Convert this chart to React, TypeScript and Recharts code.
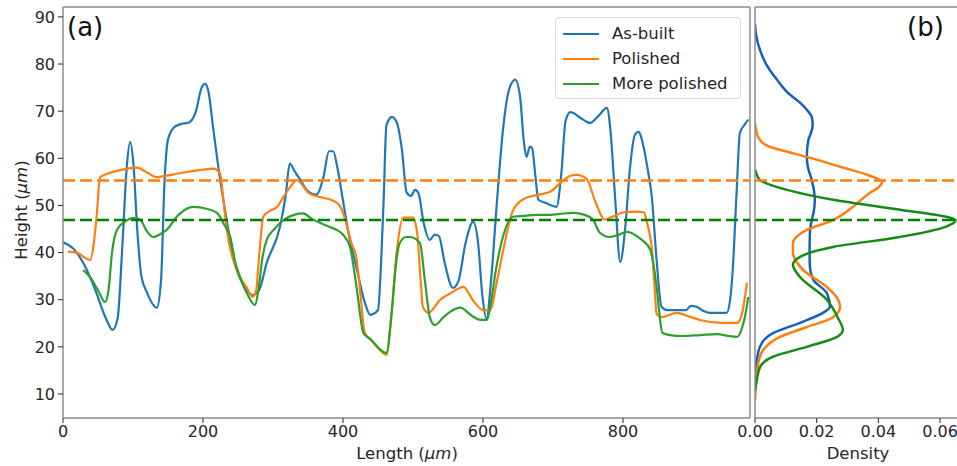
import { Line, LineChart, ReferenceLine, XAxis, YAxis } from "recharts";

// profile (a): x positions in µm and heights in µm
const asBuiltX = [0, 15, 30, 45, 60, 71, 78, 85, 91, 96, 101, 106, 112, 120, 134, 140, 145, 150, 158, 167, 180, 190, 198, 203, 208, 214, 222, 234, 245, 258, 271, 280, 291, 310, 318, 324, 330, 339, 350, 362, 372, 380, 386, 392, 400, 408, 419, 430, 439, 450, 455, 458, 462, 470, 477, 484, 491, 497, 503, 508, 515, 524, 531, 537, 545, 557, 565, 575, 586, 593, 599, 605, 612, 620, 629, 637, 646, 653, 658, 662, 667, 670, 675, 679, 690, 705, 712, 718, 725, 740, 753, 765, 777, 782, 789, 796, 803, 810, 817, 822, 830, 836, 841, 848, 855, 863, 875, 890, 897, 905, 915, 924, 948, 953, 957, 962, 967, 973, 979];
const asBuiltY = [42.2, 40.8, 37.5, 32.5, 26.5, 23.6, 26, 42, 58, 63.5, 58, 45, 35, 31.5, 28.3, 34, 55, 64, 66.5, 67.2, 67.6, 70, 75, 75.8, 74, 67, 58, 46.7, 38, 33, 31, 32, 37.8, 45.5, 52, 58.9, 57.5, 55.4, 53, 52.3, 56, 61.5, 61.5, 58, 51, 44, 37, 30, 26.8, 27.8, 40, 51, 67, 68.8, 67.5, 62, 52.7, 52, 53.3, 52.5, 46.5, 42.7, 43.8, 43.5, 38, 32.5, 34, 42, 46.5, 42, 31, 26, 35, 51, 66.7, 74.5, 76.7, 73, 64, 60.3, 62.5, 62.2, 56, 51.2, 50.5, 49.7, 57, 68, 69.8, 68.5, 67.5, 69, 70.7, 66, 51, 38, 45, 58, 65, 65.6, 62, 57, 52, 38.4, 28.5, 27.8, 27.8, 27.8, 28.7, 28.5, 27.6, 27.2, 27.2, 30, 37, 52, 65.4, 67, 68.2];

const polishedX = [7, 20, 30, 39, 44, 48, 53, 67, 85, 106, 120, 134, 155, 177, 200, 215, 224, 230, 234, 243, 252, 262, 271, 276, 279, 283, 286, 295, 306, 315, 325, 334, 339, 352, 367, 386, 395, 400, 405, 412, 419, 425, 431, 440, 450, 462, 468, 477, 486, 500, 506, 511, 514, 522, 539, 555, 572, 585, 600, 610, 620, 629, 643, 660, 677, 696, 715, 725, 734, 742, 749, 760, 774, 785, 800, 820, 830, 834, 838, 841, 845, 848, 855, 877, 895, 910, 940, 963, 970, 977];
const polishedY = [40.2, 40, 39, 38.4, 42, 47.6, 56, 56.9, 57.6, 58, 57, 56, 56.5, 57.1, 57.6, 57.8, 56.9, 50, 44.8, 38.5, 35, 32.7, 30.6, 32, 37, 44, 47.6, 48.8, 49.7, 51.8, 54, 55.4, 54.8, 52.5, 51.8, 51, 50, 48.4, 46, 42, 39, 31, 23, 21.5, 19.8, 18.3, 25, 40.6, 47.4, 47.4, 44, 34, 28.5, 27.2, 30, 31.5, 32.7, 30, 27.8, 27.8, 34, 40.6, 49, 51.5, 52.2, 52.9, 55.4, 56.3, 56.5, 56.2, 55.4, 51, 47, 47.6, 48.5, 48.7, 48.5, 46.5, 44, 41.2, 33, 27, 26.3, 27.2, 26.4, 25.7, 25.1, 25.1, 27, 33.6];

const morePolishedX = [29, 40, 50, 60, 65, 70, 77, 88, 100, 110, 120, 129, 140, 148, 165, 186, 205, 220, 230, 239, 246, 253, 264, 274, 280, 285, 291, 302, 315, 330, 343, 355, 367, 380, 391, 400, 410, 420, 429, 440, 455, 462, 470, 476, 481, 490, 496, 510, 517, 524, 531, 545, 567, 585, 596, 605, 612, 618, 624, 643, 660, 677, 691, 710, 729, 745, 757, 767, 781, 790, 806, 824, 839, 844, 848, 852, 856, 867, 885, 910, 935, 950, 963, 970, 975, 979];
const morePolishedY = [36.3, 34.5, 32, 29.5, 32, 40, 44.8, 46.5, 47.3, 47, 44.5, 43.3, 44, 44.8, 48, 49.7, 49.3, 48.4, 46, 43.3, 38, 34.8, 31, 28.9, 33, 39, 42.7, 45, 46.9, 48, 48.3, 47.2, 46.3, 45.5, 44.8, 43.8, 41.2, 32, 23, 21.5, 19.2, 18.7, 28, 38, 42, 43.3, 43.3, 42, 34, 26.3, 24.6, 26.5, 28.3, 26.5, 25.7, 25.7, 30, 36, 40.6, 47.6, 47.8, 48, 48, 48.2, 48.4, 48, 47, 44.2, 43.3, 43.6, 44.4, 43, 40.6, 37, 32.7, 27, 23, 22.5, 22.3, 22.5, 22.7, 22.3, 22.1, 24, 27, 30.6];

// density (b): heights and kernel density values
const asBuiltDensH = [88.5, 86, 83, 80, 76.7, 74, 71.8, 70, 68.8, 67, 65.5, 63.9, 60.3, 58, 55.4, 51.2, 48.5, 46.9, 44.2, 40, 37, 34.2, 31.4, 28.5, 27.2, 25.1, 22.9, 20, 17.2, 14.5];
const asBuiltDens = [0, 0.0004, 0.0016, 0.0036, 0.0071, 0.0105, 0.0146, 0.0172, 0.0184, 0.0187, 0.0182, 0.0173, 0.0168, 0.0172, 0.0184, 0.0194, 0.019, 0.0184, 0.0178, 0.0177, 0.0178, 0.0189, 0.0233, 0.0243, 0.022, 0.0146, 0.0058, 0.0016, 0.0006, 0];

const polishedDensH = [67.5, 65.5, 63.9, 62.5, 61.8, 60.3, 58.2, 56.5, 55, 53.8, 52.7, 49.7, 46.9, 44.8, 42, 39.9, 38, 36.3, 32.7, 30.5, 28.5, 26.3, 24.2, 22.1, 19.3, 17, 14.5, 11, 8.7];
const polishedDens = [0, 0.0005, 0.0016, 0.0045, 0.0081, 0.0168, 0.0276, 0.0363, 0.0412, 0.04, 0.0373, 0.0318, 0.0253, 0.0168, 0.0123, 0.0123, 0.0135, 0.0156, 0.0233, 0.0265, 0.0276, 0.0253, 0.0168, 0.0081, 0.0026, 0.0012, 0.0006, 0.0002, 0];

const morePolishedDensH = [57.6, 56.5, 55.4, 53.3, 51.2, 49.1, 47.6, 46.9, 45.5, 43.3, 41.2, 39.1, 37.4, 34.8, 30, 26, 23.6, 22.1, 20, 17.9, 15.7, 13, 10.8];
const morePolishedDens = [0, 0.0006, 0.0016, 0.0104, 0.0253, 0.047, 0.062, 0.065, 0.062, 0.047, 0.0253, 0.0146, 0.0123, 0.0146, 0.0233, 0.027, 0.0285, 0.0266, 0.0168, 0.0058, 0.0016, 0.0006, 0];

const polishedMean = 55.3;
const morePolishedMean = 46.9;

const seriesNames = ["As-built", "Polished", "More polished"];

const heightTicks = [10, 20, 30, 40, 50, 60, 70, 80, 90];
const lengthTicks = [0, 200, 400, 600, 800];
const densityTicks = [0, 0.02, 0.04, 0.06];

const Y_DOMAIN: [number, number] = [4.9, 92.1];
const X_DOMAIN: [number, number] = [0, 981.4];
const D_DOMAIN: [number, number] = [0, 0.0655];

const FONT = "DejaVu Sans, sans-serif";
const FRAME = "#8c8c8c";
const TEXT = "#262626";

const C_BLUE = "#1f77b4";
const C_ORANGE = "#ff7f0e";
const C_GREEN = "#2ca02c";
const SERIES_COLORS = [C_BLUE, C_ORANGE, C_GREEN];

const zip = (xs: number[], ys: number[], kx: string, ky: string) =>
  xs.map((x, i) => ({ [kx]: x, [ky]: ys[i] }));

const asBuiltData = zip(asBuiltX, asBuiltY, "x", "y");
const polishedData = zip(polishedX, polishedY, "x", "y");
const morePolishedData = zip(morePolishedX, morePolishedY, "x", "y");

const asBuiltDensData = zip(asBuiltDensH, asBuiltDens, "h", "d");
const polishedDensData = zip(polishedDensH, polishedDens, "h", "d");
const morePolishedDensData = zip(morePolishedDensH, morePolishedDens, "h", "d");

const tickStyle = { fontSize: 16, fill: TEXT, fontFamily: FONT };

function LegendBox() {
  return (
    <div
      style={{
        position: "absolute",
        left: 555,
        top: 17,
        width: 186,
        height: 82,
        boxSizing: "border-box",
        border: "1px solid #d9d9d9",
        borderRadius: 4,
        background: "rgba(255,255,255,0.85)",
        padding: "3px 0 0 7px",
        fontSize: 16.5,
        color: TEXT,
      }}
    >
      {seriesNames.map((name, i) => (
        <div key={name} style={{ display: "flex", alignItems: "center", height: 25 }}>
          <span
            style={{
              display: "inline-block",
              width: 36,
              height: 0,
              borderTop: `2.5px solid ${SERIES_COLORS[i]}`,
              marginRight: 13,
            }}
          />
          <span>{name}</span>
        </div>
      ))}
    </div>
  );
}

export default function App() {
  return (
    <div
      style={{
        position: "absolute",
        left: 0,
        top: 0,
        width: 957,
        height: 466,
        overflow: "hidden",
        background: "#fff",
        fontFamily: FONT,
      }}
    >
      <div style={{ position: "absolute", left: 0, top: 0 }}>
        <LineChart
          width={760}
          height={466}
          margin={{ top: 7, right: 10, bottom: 0, left: 8 }}
        >
          <XAxis
            dataKey="x"
            type="number"
            domain={X_DOMAIN}
            ticks={lengthTicks}
            allowDataOverflow
            height={48}
            tickSize={5}
            tickMargin={3}
            tick={tickStyle}
            tickLine={{ stroke: TEXT }}
            axisLine={{ stroke: FRAME, strokeWidth: 1.5 }}
          />
          <YAxis
            type="number"
            domain={Y_DOMAIN}
            ticks={heightTicks}
            allowDataOverflow
            width={55}
            tickSize={5}
            tickMargin={3}
            tick={tickStyle}
            tickLine={{ stroke: TEXT }}
            axisLine={{ stroke: FRAME, strokeWidth: 1.5 }}
          />
          <ReferenceLine y={Y_DOMAIN[1]} stroke={FRAME} strokeWidth={1.5} />
          <ReferenceLine x={X_DOMAIN[1]} stroke={FRAME} strokeWidth={1.5} />
          <Line
            data={asBuiltData}
            dataKey="y"
            name={seriesNames[0]}
            type="monotone"
            stroke={C_BLUE}
            strokeWidth={2.2}
            dot={false}
            isAnimationActive={false}
          />
          <Line
            data={polishedData}
            dataKey="y"
            name={seriesNames[1]}
            type="monotone"
            stroke={C_ORANGE}
            strokeWidth={2.2}
            dot={false}
            isAnimationActive={false}
          />
          <Line
            data={morePolishedData}
            dataKey="y"
            name={seriesNames[2]}
            type="monotone"
            stroke={C_GREEN}
            strokeWidth={2.2}
            dot={false}
            isAnimationActive={false}
          />
          <ReferenceLine
            y={polishedMean}
            stroke={C_ORANGE}
            strokeWidth={2.5}
            strokeDasharray="12 5"
          />
          <ReferenceLine
            y={morePolishedMean}
            stroke="#008000"
            strokeWidth={2.5}
            strokeDasharray="12 5"
          />
        </LineChart>
      </div>

      <div style={{ position: "absolute", left: 705, top: 0 }}>
        <LineChart
          layout="vertical"
          width={252}
          height={466}
          margin={{ top: 7, right: 0, bottom: 0, left: 0 }}
        >
          <XAxis
            type="number"
            domain={D_DOMAIN}
            ticks={densityTicks}
            interval={0}
            allowDataOverflow
            tickFormatter={(v: number) => v.toFixed(2)}
            height={48}
            tickSize={5}
            tickMargin={3}
            tick={tickStyle}
            tickLine={{ stroke: TEXT }}
            axisLine={{ stroke: FRAME, strokeWidth: 1.5 }}
          />
          <YAxis
            dataKey="h"
            type="number"
            domain={Y_DOMAIN}
            reversed
            allowDataOverflow
            width={50}
            tick={false}
            tickLine={false}
            axisLine={{ stroke: FRAME, strokeWidth: 1.5 }}
          />
          <ReferenceLine y={Y_DOMAIN[1]} stroke={FRAME} strokeWidth={1.5} />
          <Line
            data={asBuiltDensData}
            dataKey="d"
            type="monotone"
            stroke="#1560bd"
            strokeWidth={2.5}
            dot={false}
            isAnimationActive={false}
          />
          <Line
            data={polishedDensData}
            dataKey="d"
            type="monotone"
            stroke={C_ORANGE}
            strokeWidth={2.5}
            dot={false}
            isAnimationActive={false}
          />
          <Line
            data={morePolishedDensData}
            dataKey="d"
            type="monotone"
            stroke="#168a16"
            strokeWidth={2.5}
            dot={false}
            isAnimationActive={false}
          />
          <ReferenceLine
            y={polishedMean}
            stroke={C_ORANGE}
            strokeWidth={2.5}
            strokeDasharray="12 5"
          />
          <ReferenceLine
            y={morePolishedMean}
            stroke="#008000"
            strokeWidth={2.5}
            strokeDasharray="12 5"
          />
        </LineChart>
      </div>

      <LegendBox />

      {/* panel tags and axis titles */}
      <div style={{ position: "absolute", left: 67, top: 12, fontSize: 26, color: "#111" }}>(a)</div>
      <div style={{ position: "absolute", left: 907, top: 12, fontSize: 26, color: "#111" }}>(b)</div>
      <div
        style={{
          position: "absolute",
          left: 21,
          top: 210,
          transform: "translate(-50%, -50%) rotate(-90deg)",
          whiteSpace: "nowrap",
          fontSize: 16.5,
          color: TEXT,
        }}
      >
        Height (<i>μm</i>)
      </div>
      <div
        style={{
          position: "absolute",
          left: 407,
          top: 453,
          transform: "translate(-50%, -50%)",
          whiteSpace: "nowrap",
          fontSize: 16.5,
          color: TEXT,
        }}
      >
        Length (<i>μm</i>)
      </div>
      <div
        style={{
          position: "absolute",
          left: 858,
          top: 453,
          transform: "translate(-50%, -50%)",
          whiteSpace: "nowrap",
          fontSize: 16.5,
          color: TEXT,
        }}
      >
        Density
      </div>
    </div>
  );
}
